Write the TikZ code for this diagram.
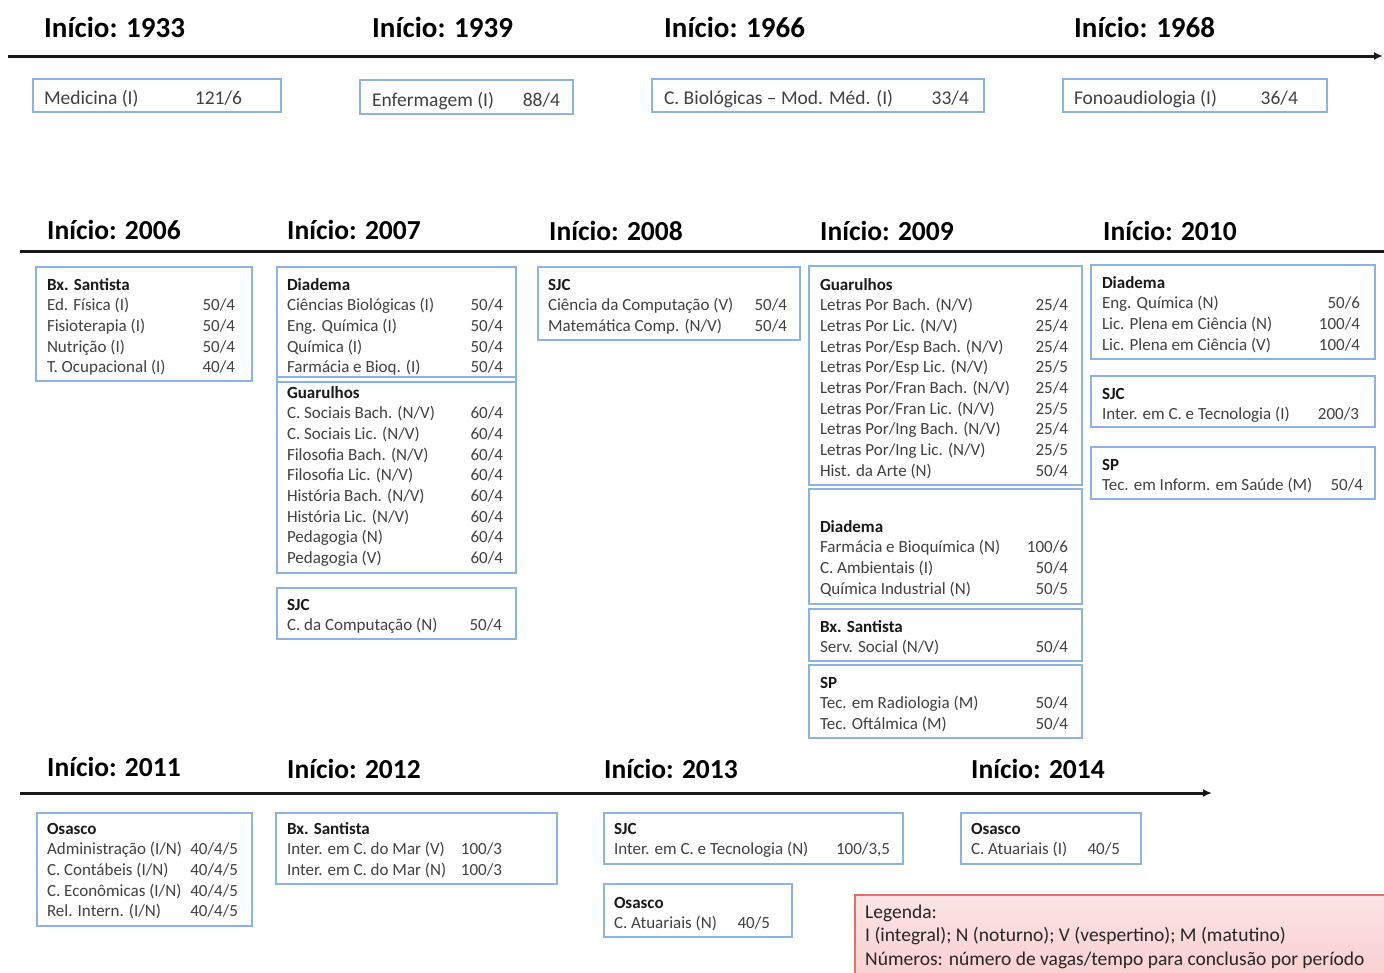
\documentclass[tikz,border=0pt]{standalone}
\usepackage{fontspec}
\setmainfont{Carlito}
\usetikzlibrary{fit,arrows.meta,calc}
\definecolor{boxblue}{RGB}{141,179,226}
\definecolor{txtgray}{RGB}{64,64,64}
\definecolor{legtop}{RGB}{253,228,228}
\definecolor{legbot}{RGB}{248,204,204}
\definecolor{legline}{RGB}{226,110,110}

\newcommand\hd[1]{\multicolumn{2}{@{}l@{}}{\color{black!90}\bfseries #1}}

% campus box: name, x1, y1, x2, y2, text left x, first baseline, right x, rows
\newcommand\cbox[9]{%
  \coordinate (#1-a) at (#2,#3);
  \coordinate (#1-b) at (#4,#5);
  \node[cboxst, fit=(#1-a)(#1-b)] (#1) {};
  \pgfmathsetmacro\tw{#8-#6}
  \node[ctext, anchor=base west] (#1-t) at (#6,#7)
    {\begin{tabular*}{\tw pt}[t]{@{}l@{\extracolsep{\fill}}r@{}}#9\end{tabular*}};
}
% top box: name, (x1,y1), (x2,y2), text left x, baseline, right x, label, number
\newcommand\tbox[8]{%
  \coordinate (#1-a) at (#2);
  \coordinate (#1-b) at (#3);
  \node[cboxst, fit=(#1-a)(#1-b)] (#1) {};
  \pgfmathsetmacro\tw{#6-#4}
  \node[ttext, anchor=base west] (#1-t) at (#4,#5)
    {\begin{tabular*}{\tw pt}[t]{@{}l@{\extracolsep{\fill}}r@{}}#7 & #8\end{tabular*}};
}

\begin{document}
\begin{tikzpicture}[x=1pt,y=-1pt,
  cboxst/.style={draw=boxblue, line width=1.6pt, inner sep=0pt, outer sep=0pt},
  ctext/.style={inner sep=0pt, outer sep=0pt, text=txtgray, font=\fontsize{17}{20.7}\selectfont},
  ttext/.style={inner sep=0pt, outer sep=0pt, text=txtgray, font=\fontsize{19.5}{23}\selectfont},
  yrA/.style={inner sep=0pt, anchor=base west, text=black, font=\fontsize{29}{34}\selectfont\bfseries},
  yrB/.style={inner sep=0pt, anchor=base west, text=black, font=\fontsize{27.5}{32}\selectfont\bfseries},
  timeline/.style={line width=3pt, draw=black!90},
  legbox/.style={draw=legline, line width=1.2pt, top color=legtop, bottom color=legbot, inner sep=0pt},
]
\useasboundingbox (0,0) rectangle (1384,972);
\clip (0,0) rectangle (1384,972);
\fill[white] (0,0) rectangle (1384,972);

% ---------- row 1 ----------
\node[yrA] (y1933) at (44,37) {Início: 1933};
\node[yrA] (y1939) at (372,37) {Início: 1939};
\node[yrA] (y1966) at (664,37) {Início: 1966};
\node[yrA] (y1968) at (1074,37) {Início: 1968};
\coordinate (tl1s) at (8,56);
\coordinate (tl1e) at (1383,56);
\draw[timeline, -{Latex[length=9pt,width=8pt]}] (tl1s) -- (tl1e);

\tbox{med}{33,79}{281,112}{44}{104}{242}{Medicina (I)}{121/6}
\tbox{enf}{360,80}{573,114}{372}{106}{560}{Enfermagem (I)}{88/4}
\tbox{cbio}{652,79}{984,112}{664}{104}{969}{C. Biológicas – Mod. Méd. (I)}{33/4}
\tbox{fono}{1063,79}{1327,112}{1074}{104}{1298}{Fonoaudiologia (I)}{36/4}

% ---------- row 2 ----------
\node[yrB] (y2006) at (47,239) {Início: 2006};
\node[yrB] (y2007) at (287,239) {Início: 2007};
\node[yrB] (y2008) at (549,240) {Início: 2008};
\node[yrB] (y2009) at (820,240) {Início: 2009};
\node[yrB] (y2010) at (1103,240) {Início: 2010};
\coordinate (tl2s) at (20,251);
\coordinate (tl2e) at (1390,251);
\draw[timeline] (tl2s) -- (tl2e);

\cbox{bs06}{36}{267}{252}{381}{47}{290}{235}{\hd{Bx. Santista}\\ Ed. Física (I) & 50/4\\ Fisioterapia (I) & 50/4\\ Nutrição (I) & 50/4\\ T. Ocupacional (I) & 40/4}
\cbox{dia07}{277}{267}{516}{382}{287}{290}{503}{\hd{Diadema}\\ Ciências Biológicas (I) & 50/4\\ Eng. Química (I) & 50/4\\ Química (I) & 50/4\\ Farmácia e Bioq. (I) & 50/4}
\cbox{gua07}{277}{377}{516}{573}{287}{398}{503}{\hd{Guarulhos}\\ C. Sociais Bach. (N/V) & 60/4\\ C. Sociais Lic. (N/V) & 60/4\\ Filosofia Bach. (N/V) & 60/4\\ Filosofia Lic. (N/V) & 60/4\\ História Bach. (N/V) & 60/4\\ História Lic. (N/V) & 60/4\\ Pedagogia (N) & 60/4\\ Pedagogia (V) & 60/4}
\cbox{sjc07}{277}{588}{516}{639}{287}{610}{502}{\hd{SJC}\\ C. da Computação (N) & 50/4}
\cbox{sjc08}{538}{267}{800}{340}{548}{290}{787}{\hd{SJC}\\ Ciência da Computação (V) & 50/4\\ Matemática Comp. (N/V) & 50/4}
\cbox{gua09}{809}{266}{1082}{485}{820}{290}{1068}{\hd{Guarulhos}\\ Letras Por Bach. (N/V) & 25/4\\ Letras Por Lic. (N/V) & 25/4\\ Letras Por/Esp Bach. (N/V) & 25/4\\ Letras Por/Esp Lic. (N/V) & 25/5\\ Letras Por/Fran Bach. (N/V) & 25/4\\ Letras Por/Fran Lic. (N/V) & 25/5\\ Letras Por/Ing Bach. (N/V) & 25/4\\ Letras Por/Ing Lic. (N/V) & 25/5\\ Hist. da Arte (N) & 50/4}
\cbox{dia09}{809}{489}{1082}{604}{820}{532}{1068}{\hd{Diadema}\\ Farmácia e Bioquímica (N) & 100/6\\ C. Ambientais (I) & 50/4\\ Química Industrial (N) & 50/5}
\cbox{bs09}{809}{609}{1082}{661}{820}{632}{1068}{\hd{Bx. Santista}\\ Serv. Social (N/V) & 50/4}
\cbox{sp09}{809}{665}{1082}{738}{820}{688}{1068}{\hd{SP}\\ Tec. em Radiologia (M) & 50/4\\ Tec. Oftálmica (M) & 50/4}
\cbox{dia10}{1091}{265}{1375}{359}{1102}{288}{1360}{\hd{Diadema}\\ Eng. Química (N) & 50/6\\ Lic. Plena em Ciência (N) & 100/4\\ Lic. Plena em Ciência (V) & 100/4}
\cbox{sjc10}{1091}{376}{1375}{427}{1102}{399}{1359}{\hd{SJC}\\ Inter. em C. e Tecnologia (I) & 200/3}
\cbox{sp10}{1091}{447}{1375}{499}{1102}{470}{1363}{\hd{SP}\\ Tec. em Inform. em Saúde (M) & 50/4}

% ---------- row 3 ----------
\node[yrB] (y2011) at (47,776) {Início: 2011};
\node[yrB] (y2012) at (287,778) {Início: 2012};
\node[yrB] (y2013) at (604,778) {Início: 2013};
\node[yrB] (y2014) at (971,778) {Início: 2014};
\coordinate (tl3s) at (20,793);
\coordinate (tl3e) at (1212,793);
\draw[timeline, -{Latex[length=9pt,width=8pt]}] (tl3s) -- (tl3e);

\cbox{osa11}{37}{813}{252}{926}{47}{834}{238}{\hd{Osasco}\\ Administração (I/N) & 40/4/5\\ C. Contábeis (I/N) & 40/4/5\\ C. Econômicas (I/N) & 40/4/5\\ Rel. Intern. (I/N) & 40/4/5}
\cbox{bs12}{276}{813}{557}{884}{287}{834}{502}{\hd{Bx. Santista}\\ Inter. em C. do Mar (V) & 100/3\\ Inter. em C. do Mar (N) & 100/3}
\cbox{sjc13}{604}{813}{903}{864}{614}{834}{890}{\hd{SJC}\\ Inter. em C. e Tecnologia (N) & 100/3,5}
\cbox{osa13}{604}{884}{792}{937}{614}{908}{770}{\hd{Osasco}\\ C. Atuariais (N) & 40/5}
\cbox{osa14}{961}{813}{1141}{864}{971}{834}{1120}{\hd{Osasco}\\ C. Atuariais (I) & 40/5}

% ---------- legend ----------
\coordinate (leg-a) at (855,895);
\coordinate (leg-b) at (1398,990);
\node[legbox, fit=(leg-a)(leg-b)] (leg) {};
\node[inner sep=0pt, anchor=base west, text=black!85, font=\fontsize{19.5}{23.5}\selectfont] (leg-t) at (865,918)
  {\begin{tabular}[t]{@{}l@{}}Legenda:\\ I (integral); N (noturno); V (vespertino); M (matutino)\\ Números: número de vagas/tempo para conclusão por período\end{tabular}};
\end{tikzpicture}
\end{document}
